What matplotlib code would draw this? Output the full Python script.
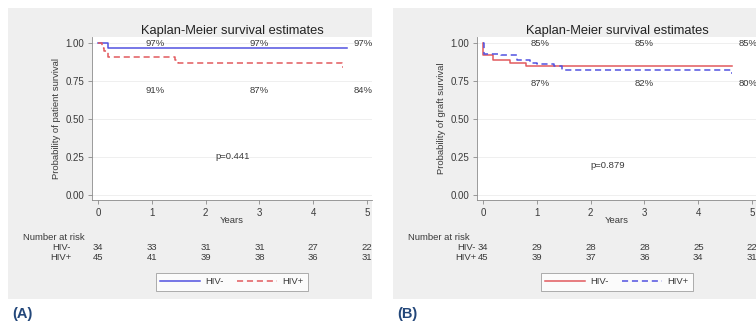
import matplotlib
matplotlib.use('Agg')
import matplotlib.pyplot as plt
from matplotlib.patches import Rectangle

plt.rcParams['font.family'] = ['Liberation Sans', 'DejaVu Sans']

# Panel A: patient survival
a_neg_t = [0, 0.19, 4.63]
a_neg_s = [1.0, 0.97, 0.97]
a_pos_t = [0, 0.07, 0.11, 0.19, 1.43, 1.49, 4.54, 4.56]
a_pos_s = [1.0, 0.97, 0.95, 0.91, 0.89, 0.87, 0.84, 0.84]
a_top_labels = ['97%', '97%', '97%']
a_bot_labels = ['91%', '87%', '84%']
a_risk_neg = [34, 33, 31, 31, 27, 22]
a_risk_pos = [45, 41, 39, 38, 36, 31]
a_p = 'p=0.441'

# Panel B: graft survival
b_neg_t = [0, 0.01, 0.18, 0.51, 0.8, 4.63]
b_neg_s = [1.0, 0.92, 0.89, 0.87, 0.85, 0.85]
b_pos_t = [0, 0.02, 0.33, 0.64, 0.88, 1.0, 1.32, 1.47, 4.6, 4.62]
b_pos_s = [1.0, 0.93, 0.92, 0.89, 0.87, 0.86, 0.85, 0.82, 0.80, 0.80]
b_top_labels = ['85%', '85%', '85%']
b_bot_labels = ['87%', '82%', '80%']
b_risk_neg = [34, 29, 28, 28, 25, 22]
b_risk_pos = [45, 39, 37, 36, 34, 31]
b_p = 'p=0.879'

years = [0, 1, 2, 3, 4, 5]
label_x = [1.06, 3.0, 4.93]

BLUE = '#5252e0'
RED = '#e25a5e'
TXT = '#3a3a3a'
FS = 6.8
W, H = 756, 322

fig = plt.figure(figsize=(W / 100, H / 100), dpi=100)
fig.patch.set_facecolor('white')


def px_box(x0, y0, x1, y1):
    return [x0 / W, 1 - y1 / H, (x1 - x0) / W, (y1 - y0) / H]


def panel(dx, ylabel, neg, pos, neg_style, pos_style, top, bot, bot_y,
          rneg, rpos, ptxt, pxy, row_x, tag):
    bg = px_box(8 + dx, 8, 372 + dx, 299)
    fig.add_artist(Rectangle((bg[0], bg[1]), bg[2], bg[3],
                             transform=fig.transFigure,
                             facecolor='#efefef', edgecolor='none', zorder=-10))
    ax = fig.add_axes(px_box(92 + dx, 37, 372 + dx, 200))
    ax.set_facecolor('white')
    ax.step(neg[0], neg[1], where='post', label='HIV-', **neg_style)
    ax.step(pos[0], pos[1], where='post', label='HIV+', **pos_style)
    ax.set_xlim(-0.11, 5.09)
    ax.set_ylim(-0.035, 1.04)
    ax.set_xticks(years)
    ax.set_yticks([0, 0.25, 0.5, 0.75, 1.0])
    ax.set_yticklabels(['0.00', '0.25', '0.50', '0.75', '1.00'])
    ax.yaxis.grid(True, color='#ececec', linewidth=0.6)
    ax.set_axisbelow(True)
    for s in ['top', 'right']:
        ax.spines[s].set_visible(False)
    for s in ['left', 'bottom']:
        ax.spines[s].set_color('#8a8a8a')
        ax.spines[s].set_linewidth(0.6)
    ax.tick_params(length=3, width=0.6, color='#8a8a8a', labelsize=7,
                   labelcolor=TXT, pad=2.5)
    ax.set_title('Kaplan-Meier survival estimates', fontsize=9.3,
                 color='#222222', pad=2)
    ax.set_ylabel(ylabel, fontsize=FS, color=TXT, labelpad=3)
    ax.set_xlabel('Years', fontsize=FS, color=TXT, labelpad=-1.5)

    for x, t in zip(label_x, top):
        ax.text(x, 1.0, t, fontsize=FS, color=TXT, ha='center', va='center')
    for x, t in zip(label_x, bot):
        ax.text(x, bot_y, t, fontsize=FS, color=TXT, ha='center', va='center')
    ax.text(pxy[0], pxy[1], ptxt, fontsize=FS, color=TXT, ha='center', va='center')

    tr = ax.get_xaxis_transform()
    yr = lambda py: (200 - py) / 163
    ax.text(-0.11 - 69 / 54, yr(237), 'Number at risk', transform=tr,
            fontsize=FS, color=TXT, ha='left', va='center', clip_on=False)
    ax.text(row_x, yr(247), 'HIV-', transform=tr, fontsize=FS, color=TXT,
            ha='right', va='center')
    ax.text(row_x, yr(258), 'HIV+', transform=tr, fontsize=FS, color=TXT,
            ha='right', va='center')
    for x, n1, n2 in zip(years, rneg, rpos):
        ax.text(x, yr(247), str(n1), transform=tr, fontsize=FS, color=TXT,
                ha='center', va='center')
        ax.text(x, yr(258), str(n2), transform=tr, fontsize=FS, color=TXT,
                ha='center', va='center')

    leg = ax.legend(loc='upper center', bbox_to_anchor=(0.5, yr(268)), ncol=2,
                    fontsize=FS, frameon=True, fancybox=False, handlelength=4.2,
                    columnspacing=1.4, handletextpad=0.6, borderpad=0.5)
    for txt in leg.get_texts():
        txt.set_color(TXT)
    leg.get_frame().set_edgecolor('#8a8a8a')
    leg.get_frame().set_linewidth(0.6)

    fig.text((12 + dx) / W, 1 - 314 / H, tag, fontsize=10.5, fontweight='bold',
             color='#23477a', ha='left', va='center')
    return ax


solid_blue = dict(color=BLUE, linewidth=1.1)
dash_red = dict(color=RED, linewidth=1.1, dashes=(4, 2.5))
solid_red = dict(color=RED, linewidth=1.1)
dash_blue = dict(color=BLUE, linewidth=1.1, dashes=(4, 2.5))

panel(0, 'Probability of patient survival', (a_neg_t, a_neg_s), (a_pos_t, a_pos_s),
      solid_blue, dash_red, a_top_labels, a_bot_labels, 0.69,
      a_risk_neg, a_risk_pos, a_p, (2.5, 0.25), -0.5, '(A)')
panel(385, 'Probability of graft survival', (b_neg_t, b_neg_s), (b_pos_t, b_pos_s),
      solid_red, dash_blue, b_top_labels, b_bot_labels, 0.735,
      b_risk_neg, b_risk_pos, b_p, (2.32, 0.19), -0.13, '(B)')

fig.savefig('out.png', dpi=100)
